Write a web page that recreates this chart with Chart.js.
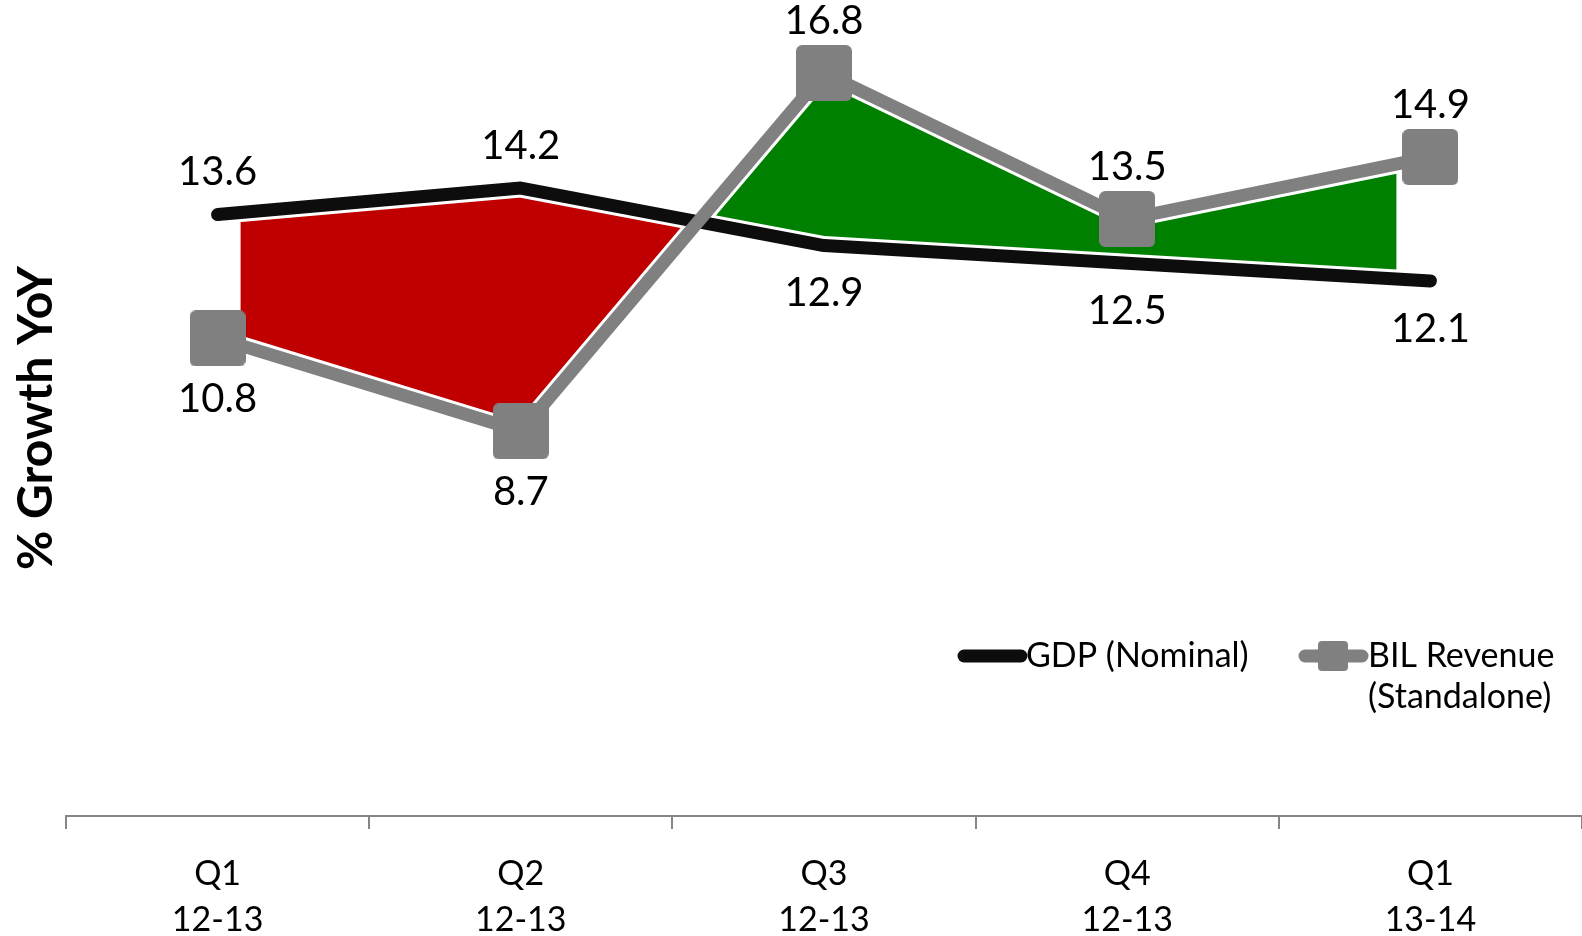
<!DOCTYPE html>
<html>
<head>
<meta charset="utf-8">
<script src="https://cdn.jsdelivr.net/npm/chart.js@4.4.1/dist/chart.umd.min.js"></script>
<style>
  html, body { margin: 0; padding: 0; background: #fff; }
  #wrap { width: 1582px; height: 936px; position: relative; }
</style>
</head>
<body>
<div id="wrap"><canvas id="growthChart"></canvas></div>
<script>
// data
const categories = [["Q1", "12-13"], ["Q2", "12-13"], ["Q3", "12-13"], ["Q4", "12-13"], ["Q1", "13-14"]];
const gdpNominal = [13.6, 14.2, 12.9, 12.5, 12.1];
const bilRevenue = [10.8, 8.7, 16.8, 13.5, 14.9];
const seriesNames = ["GDP (Nominal)", ["BIL Revenue", "(Standalone)"]];
const yTitle = "% Growth YoY";
const yMin = 0;
const yMax = 18;

const FONT = 'Lato, "DejaVu Sans", sans-serif';
const BLACK = "#0d0d0d";
const GREY = "#808080";

// rounded square marker
const makeSquare = (size, radius) => {
  const c = document.createElement("canvas");
  c.width = size;
  c.height = size;
  const g = c.getContext("2d");
  g.fillStyle = GREY;
  g.beginPath();
  g.roundRect(0, 0, size, size, radius);
  g.fill();
  return c;
};
const squareMarker = makeSquare(56, 6);

// fill is inset a little from first and last point, like the original
const fillClip = {
  id: "fillClip",
  beforeDraw(chart) {
    const x = chart.scales.x;
    const a = chart.chartArea;
    const left = x.getPixelForValue(0) + 23;
    const right = x.getPixelForValue(categories.length - 1) - 34;
    chart.ctx.save();
    chart.ctx.beginPath();
    chart.ctx.rect(left, 0, right - left, a.bottom);
    chart.ctx.clip();
  },
  beforeDatasetsDraw(chart) {
    chart.ctx.restore();
  },
};

// value labels: above when the series is the higher one, below otherwise
const valueLabels = {
  id: "valueLabels",
  afterDatasetsDraw(chart) {
    const ctx = chart.ctx;
    const gaps = [
      { above: 42, below: 48 },
      { above: 52, below: 61 },
    ];
    ctx.save();
    ctx.font = "40px " + FONT;
    ctx.fillStyle = "#000";
    ctx.textAlign = "center";
    ctx.textBaseline = "middle";
    [0, 1].forEach((i) => {
      const ds = chart.data.datasets[i];
      const other = chart.data.datasets[1 - i].data;
      chart.getDatasetMeta(i).data.forEach((pt, j) => {
        const above = ds.data[j] >= other[j];
        const dy = above ? -gaps[i].above : gaps[i].below;
        ctx.fillText(ds.data[j].toFixed(1), pt.x, pt.y + dy);
      });
    });
    ctx.restore();
  },
};

// axis title and legend
const extras = {
  id: "extras",
  afterDraw(chart) {
    const ctx = chart.ctx;
    ctx.save();
    ctx.translate(37, 418);
    ctx.rotate(-Math.PI / 2);
    ctx.font = "bold 48px " + FONT;
    ctx.fillStyle = "#000";
    ctx.textAlign = "center";
    ctx.textBaseline = "middle";
    ctx.fillText(yTitle, 0, 0);
    ctx.restore();

    ctx.save();
    ctx.lineCap = "round";
    ctx.lineWidth = 13;
    ctx.strokeStyle = BLACK;
    ctx.beginPath();
    ctx.moveTo(964, 656);
    ctx.lineTo(1021, 656);
    ctx.stroke();
    ctx.strokeStyle = GREY;
    ctx.beginPath();
    ctx.moveTo(1305, 656);
    ctx.lineTo(1362, 656);
    ctx.stroke();
    ctx.drawImage(makeSquare(30, 4), 1318, 641);

    ctx.font = "34px " + FONT;
    ctx.fillStyle = "#000";
    ctx.textAlign = "left";
    ctx.textBaseline = "middle";
    ctx.fillText(seriesNames[0], 1026, 656);
    ctx.fillText(seriesNames[1][0], 1368, 656);
    ctx.fillText(seriesNames[1][1], 1368, 697);
    ctx.restore();
  },
};

// thin white edge between the fill and each line
const halo = (values, order) => ({
  data: values,
  borderColor: "#fff",
  borderWidth: 19,
  borderCapStyle: "round",
  borderJoinStyle: "round",
  pointRadius: 0,
  tension: 0,
  fill: false,
  order: order,
});

const ctx = document.getElementById("growthChart").getContext("2d");
new Chart(ctx, {
  type: "line",
  data: {
    labels: categories,
    datasets: [
      {
        label: seriesNames[0],
        data: gdpNominal,
        borderColor: BLACK,
        borderWidth: 13,
        borderCapStyle: "round",
        borderJoinStyle: "round",
        pointRadius: 0,
        tension: 0,
        fill: false,
        order: 1,
      },
      {
        label: seriesNames[1].join(" "),
        data: bilRevenue,
        borderColor: GREY,
        borderWidth: 13,
        borderCapStyle: "round",
        pointStyle: squareMarker,
        pointRadius: 28,
        tension: 0,
        fill: { target: 0, above: "#008000", below: "#c00000" },
        order: 0,
      },
      halo(gdpNominal, 2),
      halo(bilRevenue, 3),
    ],
  },
  options: {
    responsive: true,
    maintainAspectRatio: false,
    animation: false,
    events: [],
    layout: { autoPadding: false, padding: { top: 20, left: 66, right: 0, bottom: 0 } },
    plugins: {
      legend: { display: false },
      tooltip: { enabled: false },
      filler: { drawTime: "beforeDatasetsDraw" },
    },
    scales: {
      x: {
        offset: true,
        grid: {
          z: 1,
          offset: true,
          drawOnChartArea: false,
          drawTicks: true,
          tickLength: 13,
          color: "#868686",
          lineWidth: 2,
        },
        border: { z: 1, display: true, color: "#868686", width: 2 },
        ticks: {
          z: 1,
          color: "#000",
          font: { family: FONT, size: 34, lineHeight: 1.35 },
          padding: 22,
          maxRotation: 0,
          autoSkip: false,
        },
        afterFit: (scale) => {
          scale.height = 120;
        },
      },
      y: {
        display: false,
        min: yMin,
        max: yMax,
      },
    },
  },
  plugins: [fillClip, valueLabels, extras],
});
</script>
</body>
</html>
